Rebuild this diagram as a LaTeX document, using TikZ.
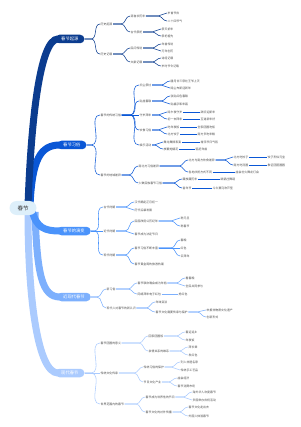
\documentclass[tikz,border=0pt]{standalone}
\usepackage{fontspec}
\newfontfamily\cjk{Noto Sans CJK SC}
\pgfdeclarelayer{bg}
\pgfsetlayers{bg,main}
\definecolor{cA}{HTML}{0B3C8F}
\definecolor{cB}{HTML}{0A57D6}
\definecolor{cC}{HTML}{4A93FB}
\definecolor{cD}{HTML}{7DB0FD}
\definecolor{cE}{HTML}{ABCBFE}
\definecolor{rootf}{HTML}{DDEFFA}
\definecolor{txt}{HTML}{4A4A4A}
\tikzset{
 t/.style={anchor=west, inner xsep=0.5pt, inner ysep=0.6pt, text=txt, font=\cjk\fontsize{2.9}{3.4}\selectfont},
 br/.style={anchor=west, rounded corners=4.2pt, minimum height=8.5pt, inner xsep=6pt, inner ysep=0pt, text=white, font=\cjk\fontsize{4.3}{5}\selectfont},
 ln/.style={line width=0.55pt},
 trunk/.style={line width=7pt},
}
\newcommand\cn[3]{\draw[ln,#1] (#2.east) -- ([xshift=-9pt]#3.west |- #2.east) to[out=0,in=180] (#3.west);}
\newcommand\st[3]{\draw[ln,#1] (#2.east) -- (#3.west);}
\begin{document}
\begin{tikzpicture}[x=1pt,y=-1pt]
\useasboundingbox (0,0) rectangle (300,427);
% root
\node[fill=rootf, rounded corners=7pt, minimum width=27pt, minimum height=14pt, inner sep=0pt, text=black!80, font=\cjk\fontsize{5.5}{6}\selectfont] (R) at (23,208) {春节};
% ---------- branch A
\node[br,fill=cA] (A) at (55,39) {春节起源};
\node[t] (A1) at (100,24) {历史起源};
\node[t] (A2) at (100,54) {历史记载};
\node[t] (A11) at (130,16) {源自农历年};
\node[t] (A12) at (130,32) {古代祭祀};
\node[t] (A111) at (167,13) {岁首节庆};
\node[t] (A112) at (167,21) {二十四节气};
\node[t] (A121) at (161,29) {祭天祈年};
\node[t] (A122) at (161,36) {祭祀祖先};
\node[t] (A21) at (130,48) {民间传说};
\node[t] (A22) at (130,62) {文献记载};
\node[t] (A211) at (161,44) {年兽传说};
\node[t] (A212) at (161,51) {万年创历};
\node[t] (A221) at (161,58) {诗经记载};
\node[t] (A222) at (161,66) {岁时节令记载};
\cn{cA}{A}{A1} \cn{cA}{A}{A2}
\cn{cA}{A1}{A11} \cn{cA}{A1}{A12}
\cn{cA}{A11}{A111} \cn{cA}{A11}{A112}
\cn{cA}{A12}{A121} \cn{cA}{A12}{A122}
\cn{cA}{A2}{A21} \cn{cA}{A2}{A22}
\cn{cA}{A21}{A211} \cn{cA}{A21}{A212}
\cn{cA}{A22}{A221} \cn{cA}{A22}{A222}
% ---------- branch B
\node[br,fill=cB] (B) at (57,145) {春节习俗};
\node[t] (B1) at (100,115) {春节的传统习俗};
\node[t] (B2) at (100,175) {春节的地域差异};
\node[t] (B11) at (139,85) {扫尘祭灶};
\node[t] (B12) at (139,101) {贴挂春联};
\node[t] (B13) at (139,115) {守岁拜年};
\node[t] (B14) at (139,130) {饮食习俗};
\node[t] (B15) at (139,145) {娱乐活动};
\node[t] (B111) at (170,81) {腊月廿三祭灶王爷上天};
\node[t] (B112) at (170,88) {除尘布新迎新年};
\node[t] (B121) at (170,96) {张贴红色春联};
\node[t] (B122) at (170,104) {贴福字和年画};
\node[t] (B131) at (167,112) {除夕夜守岁};
\node[t] (B132) at (167,119) {初一去拜年};
\node[t] (B1311) at (200,112) {辞旧迎新年};
\node[t] (B1321) at (200,119) {互道新年好};
\node[t] (B141) at (167,127) {吃年夜饭};
\node[t] (B142) at (167,134) {北方饺子};
\node[t] (B1411) at (197,127) {全家团圆吃饭};
\node[t] (B1421) at (197,134) {南方多吃年糕};
\node[t] (B151) at (163,142) {舞龙舞狮表演};
\node[t] (B152) at (163,149) {放鞭炮烟花};
\node[t] (B1511) at (200,142) {增添节日气氛};
\node[t] (B1521) at (195,149) {驱赶年兽};
\node[t] (B21) at (138,166) {南北方习俗差异};
\node[t] (B22) at (138,183) {少数民族春节习俗};
\node[t] (B211) at (188,160) {北方与南方饮食差异};
\node[t] (B212) at (188,172) {各地庆祝方式不同};
\node[t] (B2111) at (233,157) {北方吃饺子};
\node[t] (B2112) at (233,165) {南方吃汤圆};
\node[t] (B21111) at (267,157) {饺子形似元宝};
\node[t] (B21121) at (267,165) {象征团团圆圆};
\node[t] (B2121) at (235,172) {庙会社火舞龙灯会};
\node[t] (B221) at (182,179) {藏族藏历年};
\node[t] (B222) at (182,188) {苗年节};
\node[t] (B2211) at (220,179) {跳锅庄舞蹈};
\node[t] (B2221) at (212,188) {斗牛赛马吹芦笙};
\cn{cB}{B}{B1} \cn{cB}{B}{B2}
\cn{cB}{B1}{B11} \cn{cB}{B1}{B12} \st{cB}{B1}{B13} \cn{cB}{B1}{B14} \cn{cB}{B1}{B15}
\cn{cB}{B11}{B111} \cn{cB}{B11}{B112}
\cn{cB}{B12}{B121} \cn{cB}{B12}{B122}
\cn{cB}{B13}{B131} \cn{cB}{B13}{B132}
\st{cB}{B131}{B1311} \st{cB}{B132}{B1321}
\cn{cB}{B14}{B141} \cn{cB}{B14}{B142}
\st{cB}{B141}{B1411} \st{cB}{B142}{B1421}
\cn{cB}{B15}{B151} \cn{cB}{B15}{B152}
\st{cB}{B151}{B1511} \st{cB}{B152}{B1521}
\cn{cB}{B2}{B21} \cn{cB}{B2}{B22}
\cn{cB}{B21}{B211} \cn{cB}{B21}{B212}
\cn{cB}{B211}{B2111} \cn{cB}{B211}{B2112}
\st{cB}{B2111}{B21111} \st{cB}{B2112}{B21121}
\st{cB}{B212}{B2121}
\cn{cB}{B22}{B221} \cn{cB}{B22}{B222}
\st{cB}{B221}{B2211} \st{cB}{B222}{B2221}
% ---------- branch C
\node[br,fill=cC] (C) at (57,231) {春节的演变};
\node[t] (C1) at (103,207) {古代时期};
\node[t] (C2) at (103,231) {近代时期};
\node[t] (C3) at (103,255) {现代时期};
\node[t] (C11) at (134,202) {汉代确定正月初一};
\node[t] (C12) at (134,210) {历代沿袭发展};
\node[t] (C21) at (134,221) {民国改用公历纪年};
\node[t] (C22) at (134,234) {春节成为法定节日};
\node[t] (C211) at (180,218) {称元旦};
\node[t] (C212) at (180,226) {称春节};
\node[t] (C31) at (134,248) {春节习俗不断丰富};
\node[t] (C32) at (134,264) {春节黄金周的旅游热潮};
\node[t] (C311) at (180,240) {春晚};
\node[t] (C312) at (180,248) {红包};
\node[t] (C313) at (180,256) {云拜年};
\cn{cC}{C}{C1} \st{cC}{C}{C2} \cn{cC}{C}{C3}
\cn{cC}{C1}{C11} \cn{cC}{C1}{C12}
\cn{cC}{C2}{C21} \cn{cC}{C2}{C22}
\cn{cC}{C21}{C211} \cn{cC}{C21}{C212}
\cn{cC}{C3}{C31} \cn{cC}{C3}{C32}
\cn{cC}{C31}{C311} \st{cC}{C31}{C312} \cn{cC}{C31}{C313}
% ---------- branch D
\node[br,fill=cD] (D) at (57,297) {近现代春节};
\node[t] (D1) at (106,289) {新习俗};
\node[t] (D2) at (106,308) {现代人对春节的新认识};
\node[t] (D11) at (137,283) {春节联欢晚会成为年俗};
\node[t] (D12) at (137,294) {网络拜年电子红包};
\node[t] (D111) at (185,278) {看春晚};
\node[t] (D112) at (185,286) {全民共同参与};
\node[t] (D121) at (178,294) {抢红包};
\node[t] (D21) at (155,302) {年味变淡};
\node[t] (D22) at (155,312) {春节文化需要传承与保护};
\node[t] (D221) at (206,310) {申报非物质文化遗产};
\node[t] (D222) at (206,317) {创新形式};
\cn{cD}{D}{D1} \cn{cD}{D}{D2}
\cn{cD}{D1}{D11} \cn{cD}{D1}{D12}
\cn{cD}{D11}{D111} \cn{cD}{D11}{D112}
\st{cD}{D12}{D121}
\cn{cD}{D2}{D21} \cn{cD}{D2}{D22}
\cn{cD}{D22}{D221} \cn{cD}{D22}{D222}
% ---------- branch E
\node[br,fill=cE] (E) at (55,373) {现代春节};
\node[t] (E1) at (100,343) {春节团圆的意义};
\node[t] (E2) at (100,373) {传统文化传承};
\node[t] (E3) at (100,404) {世界范围内的春节};
\node[t] (E11) at (148,336) {回家团圆饭};
\node[t] (E12) at (148,351) {亲情关系的维系};
\node[t] (E111) at (185,332) {春运返乡};
\node[t] (E112) at (185,340) {年夜饭};
\node[t] (E121) at (188,347) {拜长辈};
\node[t] (E122) at (188,355) {发红包};
\node[t] (E21) at (143,367) {传统习俗的保护};
\node[t] (E22) at (143,382) {节日文化产业};
\node[t] (E211) at (180,362) {列入非遗名录};
\node[t] (E212) at (180,370) {传统手工艺品};
\node[t] (E221) at (177,378) {庙会经济};
\node[t] (E222) at (177,386) {春节消费市场};
\node[t] (E31) at (145,397) {春节成为世界性的节日};
\node[t] (E32) at (145,412) {春节文化的对外传播};
\node[t] (E311) at (192,392) {海外华人欢度春节};
\node[t] (E312) at (192,400) {多国举办庆祝活动};
\node[t] (E321) at (188,407) {春节文化走出去};
\node[t] (E322) at (188,416) {外国人体验春节};
\cn{cE}{E}{E1} \st{cE}{E}{E2} \cn{cE}{E}{E3}
\cn{cE}{E1}{E11} \cn{cE}{E1}{E12}
\cn{cE}{E11}{E111} \cn{cE}{E11}{E112}
\cn{cE}{E12}{E121} \cn{cE}{E12}{E122}
\cn{cE}{E2}{E21} \cn{cE}{E2}{E22}
\cn{cE}{E21}{E211} \cn{cE}{E21}{E212}
\cn{cE}{E22}{E221} \cn{cE}{E22}{E222}
\cn{cE}{E3}{E31} \cn{cE}{E3}{E32}
\cn{cE}{E31}{E311} \cn{cE}{E31}{E312}
\cn{cE}{E32}{E321} \cn{cE}{E32}{E322}
% ---------- trunks
\begin{pgfonlayer}{bg}
\draw[trunk,cE] (R.center) ++(5,4) .. controls (28,300) and (38,373) .. ([xshift=3pt]E.west);
\draw[trunk,cD] (R.center) ++(12,4) .. controls (37,275) and (42,297) .. ([xshift=3pt]D.west);
\draw[trunk,cC] (R.center) ++(9,2) .. controls (36,228) and (45,231) .. ([xshift=3pt]C.west);
\draw[trunk,cB] (R.center) ++(7,-2) .. controls (32,160) and (40,145) .. ([xshift=3pt]B.west);
\draw[trunk,cA] (R.center) ++(5,-2) .. controls (31,120) and (40,39) .. ([xshift=3pt]A.west);
\end{pgfonlayer}
\end{tikzpicture}
\end{document}
